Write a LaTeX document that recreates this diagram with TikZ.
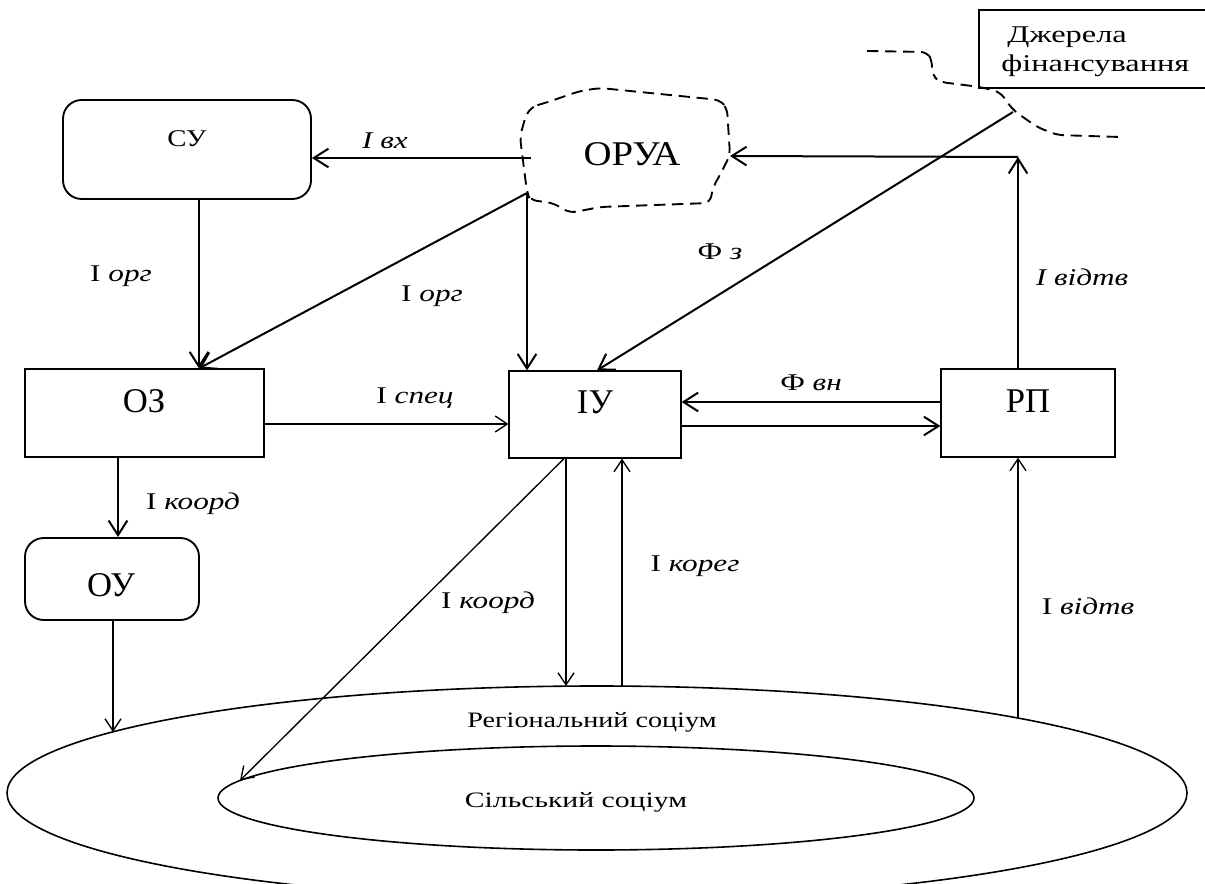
\documentclass[tikz,border=0pt]{standalone}
\usepackage{fontspec}
\usepackage{graphicx}
\setmainfont{Liberation Serif}
\usetikzlibrary{arrows.meta,shapes.geometric}
\newdimen\px \px=0.75pt
\newcommand\hs[2][1.3]{\scalebox{#1}[1]{#2}}
\tikzset{
  box/.style={draw, line width=0.9pt, inner sep=0pt},
  rbox/.style={draw, line width=1.4pt, rounded corners=14pt, inner sep=0pt},
  big/.style={font=\fontsize{26}{28}\selectfont, inner sep=0pt},
  lab/.style={font=\fontsize{18}{20}\selectfont, inner sep=0pt},
  arr/.style={-{Straight Barb[length=11pt,width=14pt]}, line width=1.5pt},
  arrthin/.style={-{Straight Barb[length=9pt,width=12pt]}, line width=1pt},
  dsh/.style={line width=1.4pt, dash pattern=on 8.5pt off 5pt, rounded corners=5pt},
}
\begin{document}
\begin{tikzpicture}[x=0.75pt,y=-0.75pt]
\useasboundingbox (0,0) rectangle (1205,884);

% boxes
\node[rbox, minimum width=248\px, minimum height=99\px] (su) at (187,149.5) {};
\node[lab] (suT) at (187,139) {\hs[1.2]{СУ}};
\node[box, minimum width=239\px, minimum height=88\px] (oz) at (144.5,413) {};
\node[big] (ozT) at (144,401) {ОЗ};
\node[rbox, minimum width=174\px, minimum height=82\px] (ou) at (112,579) {};
\node[big] (ouT) at (111,585) {ОУ};
\node[box, minimum width=172\px, minimum height=87\px] (iu) at (595,414.5) {};
\node[big] (iuT) at (595,402) {ІУ};
\node[box, minimum width=174\px, minimum height=88\px] (rp) at (1028,413) {};
\node[big] (rpT) at (1028,401) {РП};

% sources box (cut by the right edge)
\node[box, minimum width=240\px, minimum height=78\px] (dzh) at (1099,49) {};
\node[lab, anchor=base west] (dzh1) at (1007,43) {\hs[1.35]{Джерела}};
\node[lab, anchor=base west] (dzh2) at (1001,72) {\hs[1.35]{фінансування}};

% ОРУА cloud
\draw[dsh] (531,107) -- (545,103) -- (580,91) -- (600,88) -- (720,100) -- (727,108)
  -- (730,155) -- (720,175) -- (713,187) -- (710,203) -- (600,207) -- (570,213)
  -- (553,203) -- (530,200) -- (527,192) -- (522,153) -- (520,137) -- (525,118) -- cycle;
\node[big] (orua) at (632,154) {\hs[1.12]{ОРУА}};
\coordinate (oruaW) at (531,158);
\coordinate (oruaSW) at (527,193);
\coordinate (oruaE) at (730,156);

% dashed boundary near sources
\draw[dsh] (867,51) -- (927,52) -- (932,60) -- (932,75) -- (940,82) -- (980,87)
  -- (1000,92) -- (1013,110) -- (1037,127) -- (1057,135) -- (1120,137);
\coordinate (dzhA) at (1013,112);

% ellipses
\node[draw, ellipse, line width=1.2pt, minimum width=1180\px, minimum height=214\px, inner sep=0pt] (reg) at (597,793) {};
\node[draw, ellipse, line width=1.2pt, minimum width=756\px, minimum height=104\px, inner sep=0pt] (sil) at (596,798) {};
\node[lab] (regT) at (592,722) {\hs[1.28]{\fontsize{16.5}{18}\selectfont Регіональний соціум}};
\node[lab] (silT) at (576,802) {\hs[1.35]{\fontsize{16.5}{18}\selectfont Сільський соціум}};
\coordinate (regA) at (113,732);
\coordinate (regB) at (566,686);
\coordinate (regC) at (622,686.5);
\coordinate (regD) at (1018,718);
\coordinate (silA) at (240,780.5);
\coordinate (rpC) at (1018,157);

% connectors
\draw[arr] (oruaW) -- (su.east |- oruaW);
\draw[arr] (su.south -| 199,0) -- (oz.north -| 199,0);
\draw[arr] (oruaSW) -- (oz.north -| 199,0);
\draw[arr] (oruaSW) -- (iu.north -| oruaSW);
\draw[arr] (dzhA) -- (iu.north -| 597,0);
\draw[arr] (rp.north -| rpC) -- (rpC);
\draw[arr] (rpC) -- (oruaE);
\draw[arrthin] (oz.east |- 0,424) -- (iu.west |- 0,424);
\draw[arr] (rp.west |- 0,402) -- (iu.east |- 0,402);
\draw[arr] (iu.east |- 0,426) -- (rp.west |- 0,426);
\draw[arr] (oz.south -| 118,0) -- (ou.north -| 118,0);
\draw[arrthin] (ou.south -| regA) -- (regA);
\draw[arrthin] (iu.south -| 564,0) -- (silA);
\draw[arrthin] (iu.south -| regB) -- (regB);
\draw[arrthin] (regC) -- (iu.south -| regC);
\draw[arrthin] (regD) -- (rp.south -| regD);

% labels
\node[lab] (l1) at (385,141) {\hs{\textit{І вх}}};
\node[lab] (l2) at (121,276) {\hs{І \textit{орг}}};
\node[lab] (l3) at (432,296) {\hs{І \textit{орг}}};
\node[lab] (l4) at (720,252) {\hs{Ф \textit{з}}};
\node[lab] (l5) at (1082,277) {\hs{\textit{І відтв}}};
\node[lab] (l6) at (415,398) {\hs{І \textit{спец}}};
\node[lab] (l7) at (811,383) {\hs{Ф \textit{вн}}};
\node[lab] (l8) at (193,504) {\hs{І \textit{коорд}}};
\node[lab] (l9) at (488,603) {\hs{І \textit{коорд}}};
\node[lab] (l10) at (695,566) {\hs{І \textit{корег}}};
\node[lab] (l11) at (1088,606) {\hs{І \textit{відтв}}};
\end{tikzpicture}
\end{document}
